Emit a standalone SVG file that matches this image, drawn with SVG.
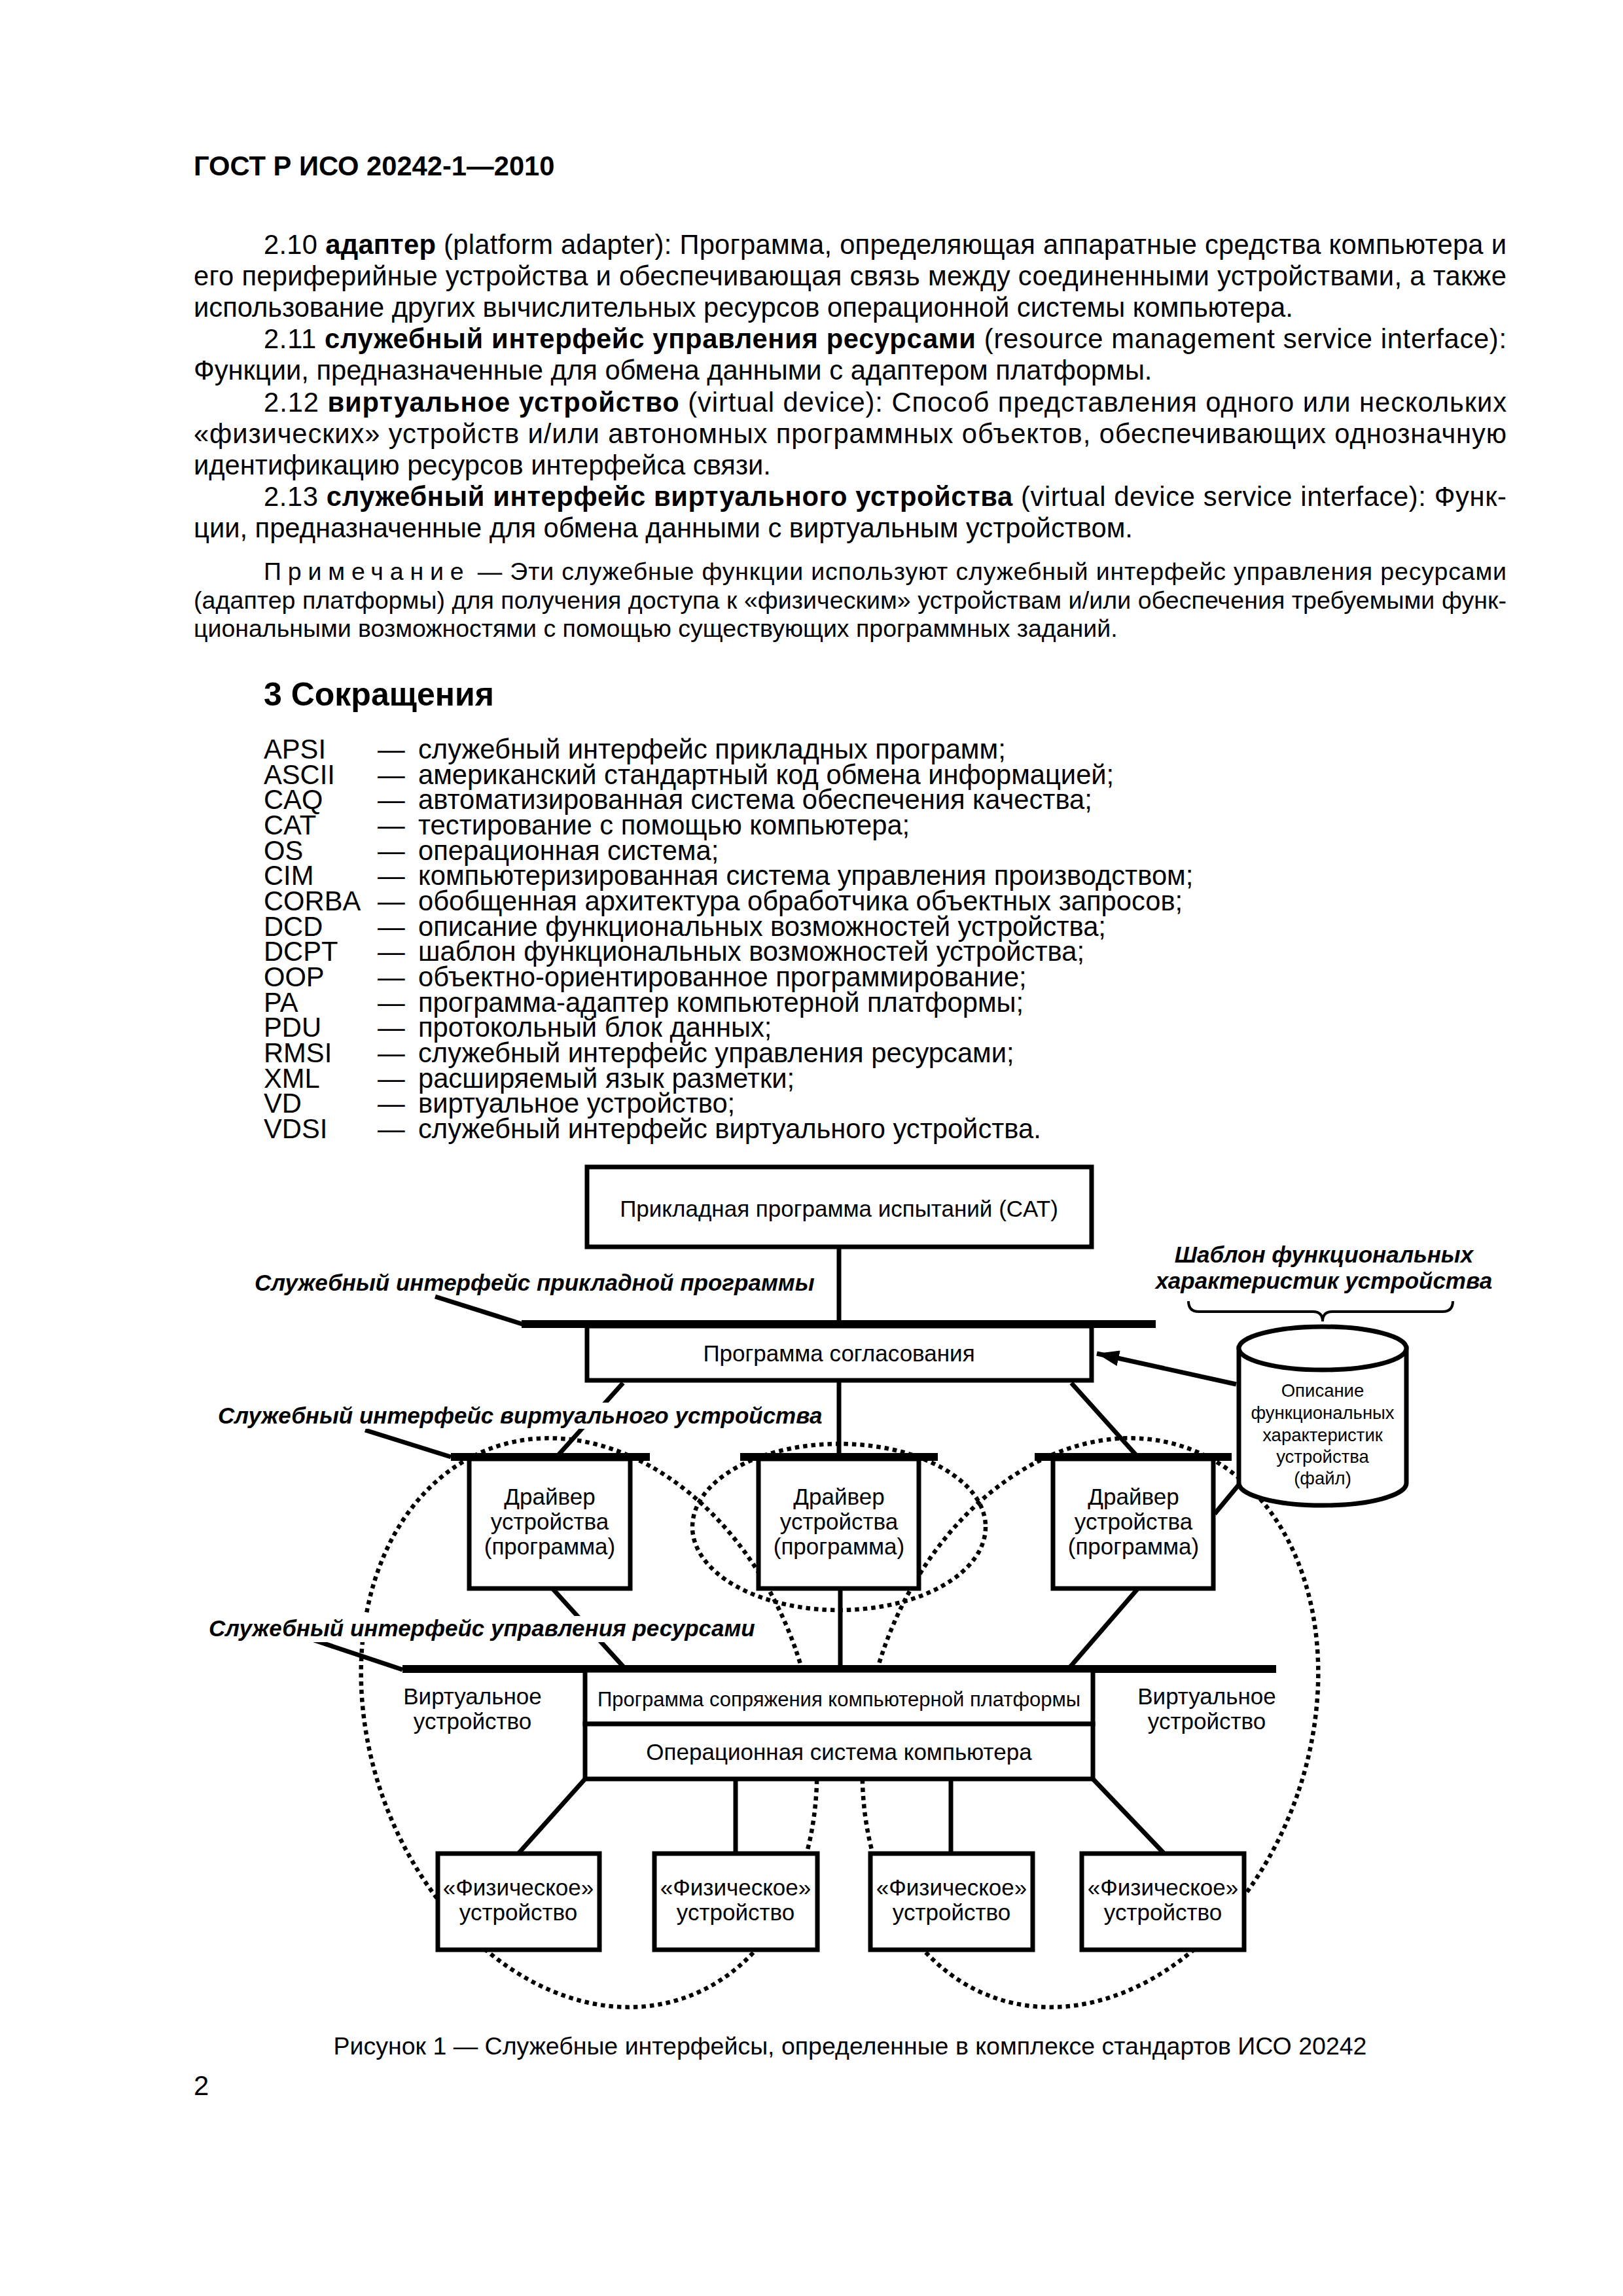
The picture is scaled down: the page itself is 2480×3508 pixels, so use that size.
<svg xmlns="http://www.w3.org/2000/svg" width="2480" height="3508" viewBox="0 0 2480 3508">
<style>
.t{font-family:"Liberation Sans",Arial,sans-serif;fill:#000}
.b{font-size:41.7px}
.n{font-size:37.5px}
.bold{font-weight:bold}
.d{font-family:"Liberation Sans",Arial,sans-serif;font-size:35px;fill:#000;text-anchor:middle}
.s{font-family:"Liberation Sans",Arial,sans-serif;font-size:31px;fill:#000;text-anchor:middle}
.c{font-family:"Liberation Sans",Arial,sans-serif;font-size:27.5px;fill:#000;text-anchor:middle}
.lab{font-family:"Liberation Sans",Arial,sans-serif;font-size:35px;font-weight:bold;font-style:italic;fill:#000}
.box{fill:#fff;stroke:#000;stroke-width:7}
.ln{stroke:#000;stroke-width:7;fill:none}
.bar{fill:#000}
.dot{fill:none;stroke:#000;stroke-width:6.5;stroke-dasharray:6.5 6}
</style>
<defs>
<marker id="arr" viewBox="0 0 34 24" refX="34" refY="12" markerWidth="34" markerHeight="24" orient="auto" markerUnits="userSpaceOnUse">
<path d="M0,0 L34,12 L0,24 Z" fill="#000"/>
</marker>
</defs>
<rect width="2480" height="3508" fill="#fff"/>

<g id="page-text">
<text class="t b bold" x="296" y="268">ГОСТ Р ИСО 20242-1—2010</text>
<text class="t b" x="403" y="388" textLength="1899" lengthAdjust="spacing">2.10 <tspan class="bold">адаптер</tspan> (platform adapter): Программа, определяющая аппаратные средства компьютера и</text>
<text class="t b" x="296" y="436" textLength="2006" lengthAdjust="spacing">его периферийные устройства и обеспечивающая связь между соединенными устройствами, а также</text>
<text class="t b" x="296" y="484">использование других вычислительных ресурсов операционной системы компьютера.</text>
<text class="t b" x="403" y="532" textLength="1899" lengthAdjust="spacing">2.11 <tspan class="bold">служебный интерфейс управления ресурсами</tspan> (resource management service interface):</text>
<text class="t b" x="296" y="580">Функции, предназначенные для обмена данными с адаптером платформы.</text>
<text class="t b" x="403" y="629" textLength="1899" lengthAdjust="spacing">2.12 <tspan class="bold">виртуальное устройство</tspan> (virtual device): Способ представления одного или нескольких</text>
<text class="t b" x="296" y="677" textLength="2006" lengthAdjust="spacing">«физических» устройств и/или автономных программных объектов, обеспечивающих однозначную</text>
<text class="t b" x="296" y="725">идентификацию ресурсов интерфейса связи.</text>
<text class="t b" x="403" y="773" textLength="1899" lengthAdjust="spacing">2.13 <tspan class="bold">служебный интерфейс виртуального устройства</tspan> (virtual device service interface): Функ-</text>
<text class="t b" x="296" y="821">ции, предназначенные для обмена данными с виртуальным устройством.</text>
<text class="t n" x="403" y="886" textLength="1899" lengthAdjust="spacing"><tspan letter-spacing="9">Примечание</tspan> — Эти служебные функции используют служебный интерфейс управления ресурсами</text>
<text class="t n" x="296" y="930" textLength="2006" lengthAdjust="spacing">(адаптер платформы) для получения доступа к «физическим» устройствам и/или обеспечения требуемыми функ-</text>
<text class="t n" x="296" y="973">циональными возможностями с помощью существующих программных заданий.</text>
<text class="t bold" style="font-size:50px" x="403" y="1078">3 Сокращения</text>
</g>

<g id="abbreviations" class="t b">
<text x="403" y="1159">APSI</text><text x="577" y="1159">—</text><text x="639" y="1159">служебный интерфейс прикладных программ;</text>
<text x="403" y="1198">ASCII</text><text x="577" y="1198">—</text><text x="639" y="1198">американский стандартный код обмена информацией;</text>
<text x="403" y="1236">CAQ</text><text x="577" y="1236">—</text><text x="639" y="1236">автоматизированная система обеспечения качества;</text>
<text x="403" y="1275">CAT</text><text x="577" y="1275">—</text><text x="639" y="1275">тестирование с помощью компьютера;</text>
<text x="403" y="1314">OS</text><text x="577" y="1314">—</text><text x="639" y="1314">операционная система;</text>
<text x="403" y="1352">CIM</text><text x="577" y="1352">—</text><text x="639" y="1352">компьютеризированная система управления производством;</text>
<text x="403" y="1391">CORBA</text><text x="577" y="1391">—</text><text x="639" y="1391">обобщенная архитектура обработчика объектных запросов;</text>
<text x="403" y="1430">DCD</text><text x="577" y="1430">—</text><text x="639" y="1430">описание функциональных возможностей устройства;</text>
<text x="403" y="1468">DCPT</text><text x="577" y="1468">—</text><text x="639" y="1468">шаблон функциональных возможностей устройства;</text>
<text x="403" y="1507">OOP</text><text x="577" y="1507">—</text><text x="639" y="1507">объектно-ориентированное программирование;</text>
<text x="403" y="1546">PA</text><text x="577" y="1546">—</text><text x="639" y="1546">программа-адаптер компьютерной платформы;</text>
<text x="403" y="1584">PDU</text><text x="577" y="1584">—</text><text x="639" y="1584">протокольный блок данных;</text>
<text x="403" y="1623">RMSI</text><text x="577" y="1623">—</text><text x="639" y="1623">служебный интерфейс управления ресурсами;</text>
<text x="403" y="1662">XML</text><text x="577" y="1662">—</text><text x="639" y="1662">расширяемый язык разметки;</text>
<text x="403" y="1700">VD</text><text x="577" y="1700">—</text><text x="639" y="1700">виртуальное устройство;</text>
<text x="403" y="1739">VDSI</text><text x="577" y="1739">—</text><text x="639" y="1739">служебный интерфейс виртуального устройства.</text>
</g>

<g id="virtual-device-areas">
<ellipse class="dot" cx="900" cy="2632" rx="335" ry="445" transform="rotate(-19 900 2632)"/>
<ellipse class="dot" cx="1666" cy="2632" rx="335" ry="445" transform="rotate(19 1666 2632)"/>
<ellipse class="dot" cx="1282" cy="2333" rx="224" ry="127"/>
</g>

<g id="connectors">
<line class="ln" x1="1282" y1="1905" x2="1282" y2="2020"/>
<line class="ln" x1="665" y1="1981" x2="798" y2="2023"/>
<line class="ln" x1="1282" y1="2109" x2="1282" y2="2224"/>
<line class="ln" x1="952" y1="2113" x2="854" y2="2222"/>
<line class="ln" x1="1637" y1="2113" x2="1735" y2="2222"/>
<line class="ln" x1="558" y1="2185" x2="689" y2="2226"/>
<line class="ln" x1="1889" y1="2115" x2="1676" y2="2068" marker-end="url(#arr)"/>
<line class="ln" x1="1856" y1="2313" x2="1895" y2="2266"/>
<line class="ln" x1="845" y1="2428" x2="953" y2="2547"/>
<line class="ln" x1="1284" y1="2427" x2="1284" y2="2547"/>
<line class="ln" x1="1738" y1="2428" x2="1635" y2="2547"/>
<line class="ln" x1="480" y1="2506" x2="615" y2="2551"/>
<line class="ln" x1="894" y1="2718" x2="792" y2="2832"/>
<line class="ln" x1="1124" y1="2718" x2="1124" y2="2832"/>
<line class="ln" x1="1453" y1="2718" x2="1453" y2="2832"/>
<line class="ln" x1="1670" y1="2718" x2="1779" y2="2832"/>
<path class="ln" style="stroke-width:4" d="M1816,1988 Q1816,2004 1832,2004 L2006,2004 Q2021,2004 2021,2019 Q2021,2004 2036,2004 L2204,2004 Q2220,2004 2220,1988"/>
</g>

<g id="interface-labels">
<rect x="330" y="2143" width="936" height="40" fill="#fff"/>
<rect x="315" y="2469" width="846" height="40" fill="#fff"/>
<text class="lab" x="389" y="1972">Служебный интерфейс прикладной программы</text>
<text class="lab" x="333" y="2175">Служебный интерфейс виртуального устройства</text>
<text class="lab" x="319" y="2500">Служебный интерфейс управления ресурсами</text>
<text class="lab" x="2023" y="1929" text-anchor="middle">Шаблон функциональных</text>
<text class="lab" x="2023" y="1969" text-anchor="middle">характеристик устройства</text>
</g>

<g id="node-cat">
<rect class="box" x="897" y="1783" width="771" height="122"/>
<text class="d" x="1282" y="1859">Прикладная программа испытаний (CAT)</text>
</g>

<g id="node-apsi-bar"><rect class="bar" x="797" y="2017" width="969" height="12"/></g>

<g id="node-negotiation">
<rect class="box" x="897" y="2026" width="771" height="83"/>
<text class="d" x="1282" y="2080">Программа согласования</text>
</g>

<g id="node-dcd">
<path d="M1893,2060 L1893,2266 A128,34 0 0 0 2149,2266 L2149,2060 Z" fill="#fff" stroke="#000" stroke-width="7"/>
<ellipse cx="2021" cy="2060" rx="128" ry="33" fill="#fff" stroke="#000" stroke-width="7"/>
<text class="c" x="2021" y="2134">Описание</text>
<text class="c" x="2021" y="2168">функциональных</text>
<text class="c" x="2021" y="2202">характеристик</text>
<text class="c" x="2021" y="2235">устройства</text>
<text class="c" x="2021" y="2268">(файл)</text>
</g>

<g id="node-driver-1">
<rect class="bar" x="689" y="2220" width="304" height="12"/>
<rect class="box" x="717" y="2229" width="246" height="198"/>
<text class="d" x="840" y="2299">Драйвер</text>
<text class="d" x="840" y="2337">устройства</text>
<text class="d" x="840" y="2375">(программа)</text>
</g>
<g id="node-driver-2">
<rect class="bar" x="1131" y="2220" width="302" height="12"/>
<rect class="box" x="1159" y="2229" width="245" height="198"/>
<text class="d" x="1282" y="2299">Драйвер</text>
<text class="d" x="1282" y="2337">устройства</text>
<text class="d" x="1282" y="2375">(программа)</text>
</g>
<g id="node-driver-3">
<rect class="bar" x="1581" y="2220" width="301" height="12"/>
<rect class="box" x="1609" y="2229" width="245" height="198"/>
<text class="d" x="1732" y="2299">Драйвер</text>
<text class="d" x="1732" y="2337">устройства</text>
<text class="d" x="1732" y="2375">(программа)</text>
</g>

<g id="node-rmsi-bar"><rect class="bar" x="615" y="2544" width="1335" height="12"/></g>

<g id="node-platform">
<rect class="box" x="894" y="2552" width="776" height="82"/>
<text class="s" x="1282" y="2607">Программа сопряжения компьютерной платформы</text>
</g>
<g id="node-os">
<rect class="box" x="894" y="2634" width="776" height="84"/>
<text class="d" x="1282" y="2689">Операционная система компьютера</text>
</g>

<g id="node-vd-left">
<text class="d" x="722" y="2604">Виртуальное</text>
<text class="d" x="722" y="2642">устройство</text>
</g>
<g id="node-vd-right">
<text class="d" x="1844" y="2604">Виртуальное</text>
<text class="d" x="1844" y="2642">устройство</text>
</g>

<g id="node-phys-1">
<rect class="box" x="669" y="2832" width="247" height="147"/>
<text class="d" x="792" y="2896">«Физическое»</text>
<text class="d" x="792" y="2934">устройство</text>
</g>
<g id="node-phys-2">
<rect class="box" x="1000" y="2832" width="249" height="147"/>
<text class="d" x="1124" y="2896">«Физическое»</text>
<text class="d" x="1124" y="2934">устройство</text>
</g>
<g id="node-phys-3">
<rect class="box" x="1330" y="2832" width="248" height="147"/>
<text class="d" x="1454" y="2896">«Физическое»</text>
<text class="d" x="1454" y="2934">устройство</text>
</g>
<g id="node-phys-4">
<rect class="box" x="1653" y="2832" width="248" height="147"/>
<text class="d" x="1777" y="2896">«Физическое»</text>
<text class="d" x="1777" y="2934">устройство</text>
</g>

<g id="caption">
<text class="t n" x="1299" y="3139" text-anchor="middle">Рисунок 1 — Служебные интерфейсы, определенные в комплексе стандартов ИСО 20242</text>
<text class="t b" x="296" y="3201">2</text>
</g>
</svg>
